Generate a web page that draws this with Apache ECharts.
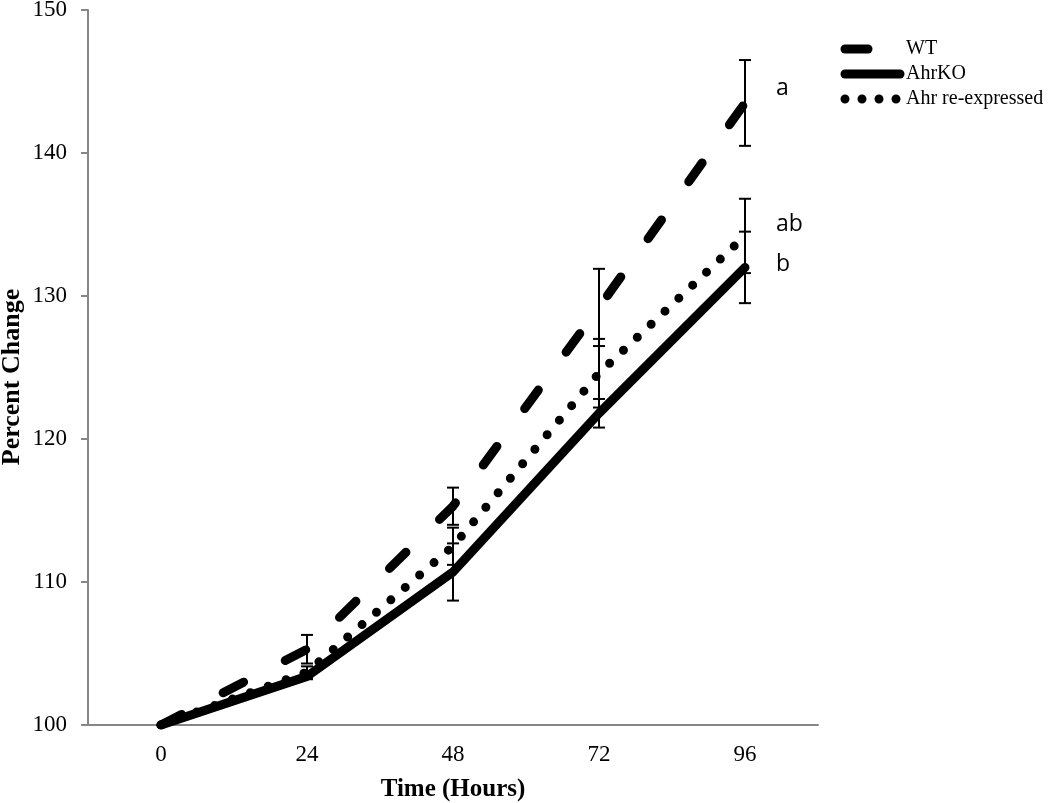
<!DOCTYPE html>
<html>
<head>
<meta charset="utf-8">
<script src="https://cdn.jsdelivr.net/npm/echarts@6/dist/echarts.min.js"></script>
<style>html,body{margin:0;padding:0;background:#fff}#c{width:1050px;height:803px}</style>
</head>
<body>
<div id="c"></div>
<script>
const hours = ['0', '24', '48', '72', '96'];
const seriesNames = ['WT', 'AhrKO', 'Ahr re-expressed'];
const wt = [100, 105.3, 115.3, 129.2, 143.5];
const wtErr = [0, 1.0, 1.3, 2.7, 3.0];
const ko = [100, 103.4, 110.7, 121.8, 132.0];
const koErr = [0, 0.2, 2.0, 1.0, 2.5];
const re = [100, 103.7, 112.5, 124.6, 134.2];
const reErr = [0, 0.4, 1.3, 2.4, 2.6];
const sigLetters = ['a', 'b', 'ab'];
const sigLetterValues = [144.5, 132.2, 135.0];
const yTicks = [100, 110, 120, 130, 140, 150];

const serif = 'Liberation Serif';
const chart = echarts.init(document.getElementById('c'));

function errData(vals, errs) {
  return vals.map((v, i) => [i, v - errs[i], v + errs[i]]).filter((d, i) => errs[i] > 0);
}
const allErr = [].concat(errData(wt, wtErr), errData(ko, koErr), errData(re, reErr));

const lineBase = { type: 'line', symbol: 'none', smooth: false, z: 3 };
const styles = {
  'WT': { color: '#000', width: 9, type: [23, 47], cap: 'round' },
  'AhrKO': { color: '#000', width: 9, type: 'solid', cap: 'round' },
  'Ahr re-expressed': { color: '#000', width: 9, type: [0, 19], cap: 'round' }
};

// legend built as graphic (icons + real text)
const legendTop = 49, legendGap = 25;
const legendGraphic = [];
seriesNames.forEach((n, i) => {
  const y = legendTop + i * legendGap;
  let x2 = 900;
  let dash = null;
  if (n === 'WT') { x2 = 868; }
  if (n === 'Ahr re-expressed') { dash = [0, 17]; x2 = 897; }
  legendGraphic.push({
    type: 'line', shape: { x1: 845, y1: y, x2: x2, y2: y },
    style: { stroke: '#000', lineWidth: 9, lineCap: 'round', lineDash: dash }
  });
  legendGraphic.push({
    type: 'text', x: 906, y: y,
    style: { text: n, fontFamily: serif, fontSize: 20, fill: '#000', verticalAlign: 'middle', align: 'left' }
  });
});
legendGraphic.push({
  type: 'text', x: 12, y: 377, rotation: Math.PI / 2,
  style: { text: 'Percent Change', fontFamily: serif, fontSize: 26, fontWeight: 'bold', fill: '#000',
    align: 'center', verticalAlign: 'middle' }
});

chart.setOption({
  animation: false,
  backgroundColor: '#fff',
  grid: { left: 88, right: 232, top: 10, bottom: 78, containLabel: false, outerBoundsMode: 'none' },
  graphic: legendGraphic,
  xAxis: {
    type: 'category', data: hours, boundaryGap: true,
    axisLine: { lineStyle: { color: '#868686', width: 2 } },
    axisTick: { show: false },
    axisLabel: { fontFamily: serif, fontSize: 23, color: '#000', margin: 18 },
    name: 'Time (Hours)', nameLocation: 'middle', nameGap: 52,
    nameTextStyle: { fontFamily: serif, fontSize: 25, fontWeight: 'bold', color: '#000' }
  },
  yAxis: {
    type: 'value', min: 100, max: 150, interval: 10,
    axisLine: { show: true, lineStyle: { color: '#868686', width: 2 } },
    axisTick: { show: true, length: 7, lineStyle: { color: '#868686', width: 2 } },
    splitLine: { show: false },
    axisLabel: { fontFamily: serif, fontSize: 23, color: '#000', margin: 21,
      formatter: v => yTicks.includes(v) ? String(v) : '' }
  },
  series: [
    Object.assign({}, lineBase, { name: 'WT', data: wt, lineStyle: styles['WT'], itemStyle: { color: '#000' } }),
    Object.assign({}, lineBase, { name: 'AhrKO', data: ko, lineStyle: styles['AhrKO'], itemStyle: { color: '#000' } }),
    Object.assign({}, lineBase, { name: 'Ahr re-expressed', data: re, lineStyle: styles['Ahr re-expressed'], itemStyle: { color: '#000' } }),
    {
      type: 'custom', name: 'err', z: 5, data: allErr, silent: true,
      renderItem: function (params, api) {
        const lo = api.coord([api.value(0), api.value(1)]);
        const hi = api.coord([api.value(0), api.value(2)]);
        const w = 6;
        const st = { stroke: '#000', lineWidth: 2 };
        return { type: 'group', children: [
          { type: 'line', shape: { x1: lo[0], y1: lo[1], x2: hi[0], y2: hi[1] }, style: st },
          { type: 'line', shape: { x1: lo[0] - w, y1: lo[1], x2: lo[0] + w, y2: lo[1] }, style: st },
          { type: 'line', shape: { x1: hi[0] - w, y1: hi[1], x2: hi[0] + w, y2: hi[1] }, style: st }
        ]};
      }
    },
    {
      type: 'custom', name: 'letters', z: 6, silent: true,
      data: sigLetters.map((t, i) => [hours.length - 1, sigLetterValues[i]]),
      renderItem: function (params, api) {
        const p = api.coord([api.value(0), api.value(1)]);
        return { type: 'text', x: p[0] + 31, y: p[1],
          style: { text: sigLetters[params.dataIndex], fontFamily: 'Open Sans', fontSize: 23,
            fill: '#000', verticalAlign: 'middle' } };
      }
    }
  ]
});
</script>
</body>
</html>
